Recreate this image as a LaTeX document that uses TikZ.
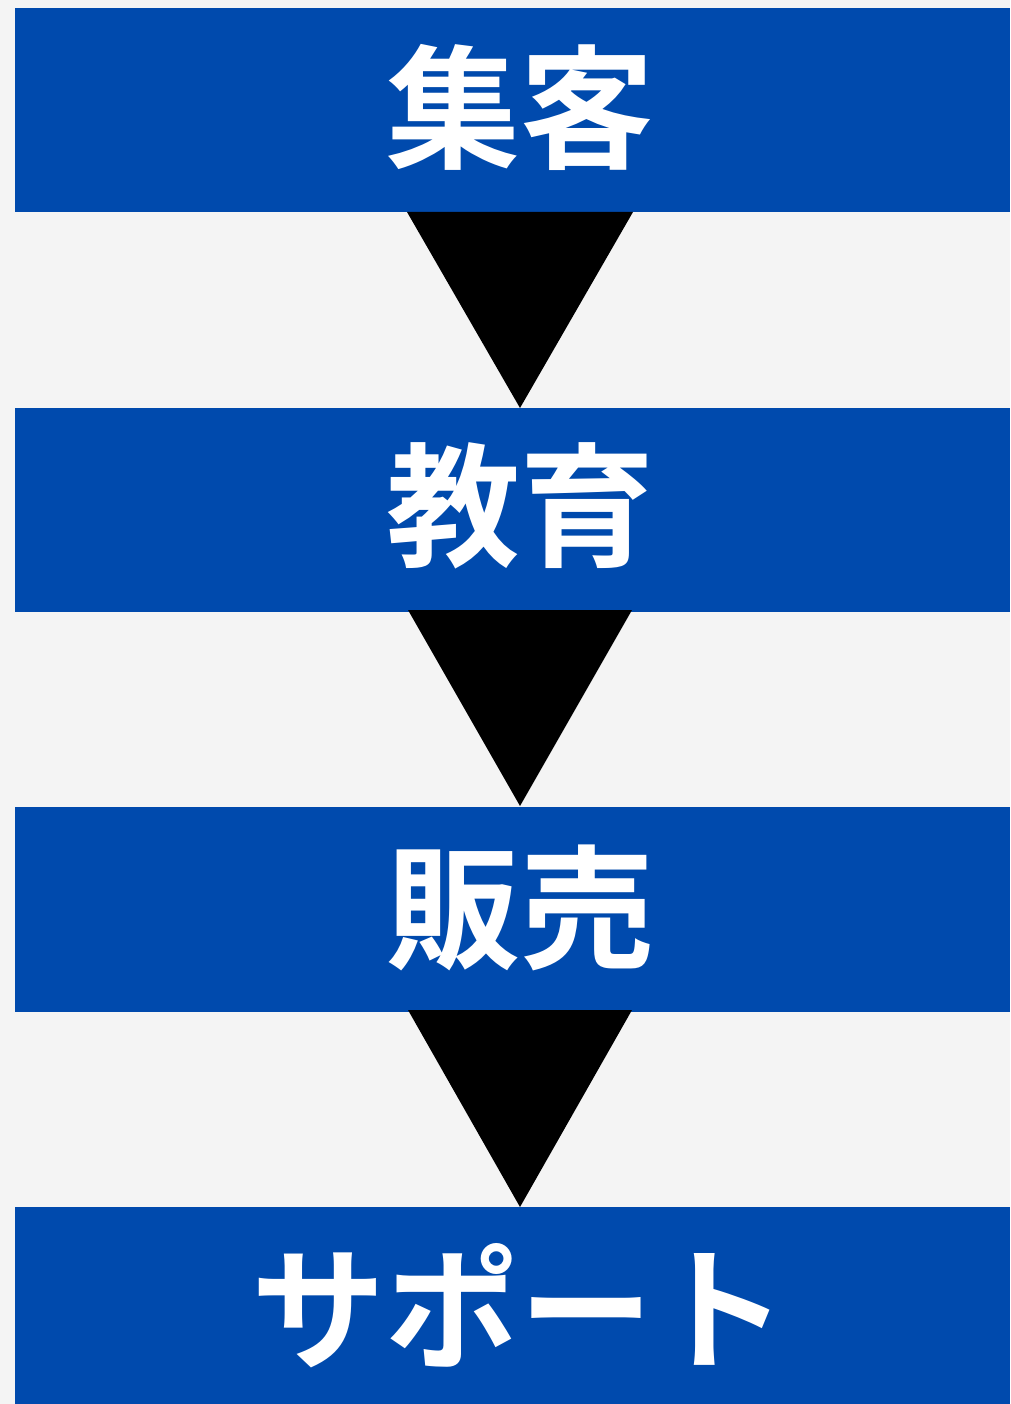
\documentclass[tikz,border=0pt]{standalone}
\usepackage{fontspec}
\newfontfamily\cjk[BoldFont={Noto Sans CJK JP Bold}]{Noto Sans CJK JP}
\definecolor{bg}{HTML}{F4F4F4}
\definecolor{boxblue}{HTML}{004AAD}
\begin{document}
\begin{tikzpicture}[x=1pt,y=-1pt,
  stage/.style={fill=boxblue,draw=none},
  lbl/.style={text=white,font=\cjk\bfseries\fontsize{134}{134}\selectfont,inner sep=0pt},
  arrowtri/.style={fill=black,draw=none}]
\fill[bg] (0,0) rectangle (1010,1404);
\useasboundingbox (0,0) rectangle (1010,1404);
% boxes
\fill[stage] (15,8) rectangle (1010,212);
\fill[stage] (15,408) rectangle (1010,612);
\fill[stage] (15,807) rectangle (1010,1012);
\fill[stage] (15,1207) rectangle (1010,1404);
% labels
\node[lbl] (s1) at (520,107) {集客};
\node[lbl] (s2) at (520,506) {教育};
\node[lbl] (s3) at (520,908) {販売};
\node[lbl] (s4) at (519,1306) {サポート};
% triangles
\coordinate (t1l) at (407,212); \coordinate (t1r) at (633,212); \coordinate (t1a) at (520,408);
\coordinate (t2l) at (408,610); \coordinate (t2r) at (632,610); \coordinate (t2a) at (520,806);
\coordinate (t3l) at (408,1010); \coordinate (t3r) at (632,1010); \coordinate (t3a) at (520,1207);
\fill[arrowtri] (t1l) -- (t1r) -- (t1a) -- cycle;
\fill[arrowtri] (t2l) -- (t2r) -- (t2a) -- cycle;
\fill[arrowtri] (t3l) -- (t3r) -- (t3a) -- cycle;
\end{tikzpicture}
\end{document}
